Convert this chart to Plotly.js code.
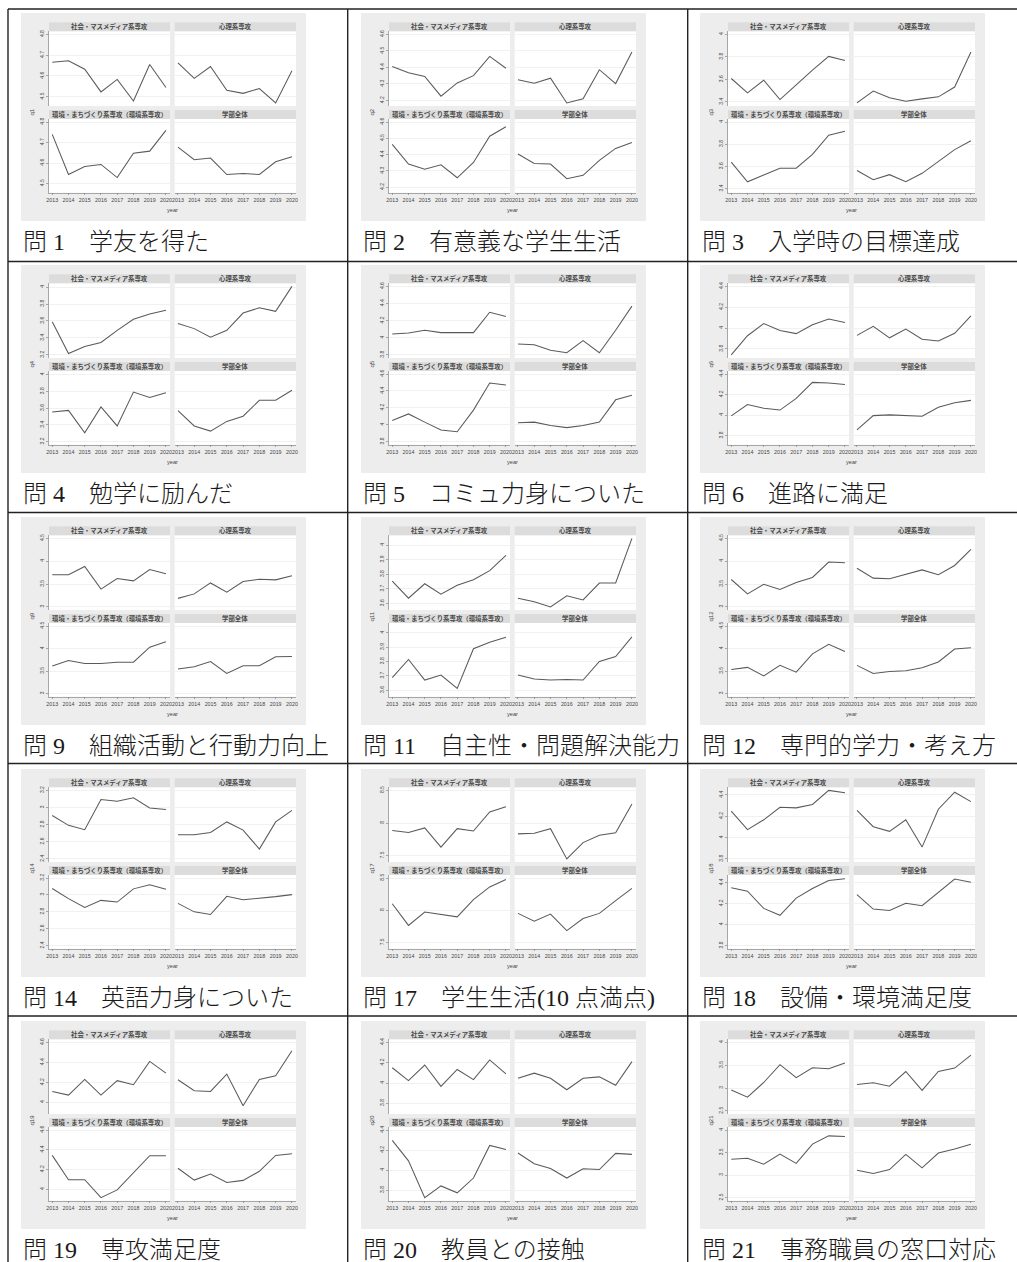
<!DOCTYPE html>
<html><head><meta charset="utf-8">
<script src="https://cdn.plot.ly/plotly-3.0.1.min.js"></script>
<style>html,body{margin:0;padding:0;background:#fff;}#chart{width:1017px;height:1262px;}</style>
</head><body><div id="chart"></div>
<script>
// ---------------- data ----------------
const years = [2013, 2014, 2015, 2016, 2017, 2018, 2019, 2020];
const panelTitles = ['社会・マスメディア系専攻', '心理系専攻', '環境・まちづくり系専攻（環境系専攻）', '学部全体'];

const q1Socio = [4.666, 4.673, 4.632, 4.523, 4.583, 4.479, 4.655, 4.544];
const q1Psych = [4.663, 4.588, 4.645, 4.531, 4.516, 4.539, 4.470, 4.625];
const q1Env   = [4.740, 4.544, 4.583, 4.593, 4.529, 4.648, 4.658, 4.759];
const q1All   = [4.678, 4.616, 4.624, 4.544, 4.549, 4.544, 4.606, 4.630];
const q1Ticks = [4.5, 4.6, 4.7, 4.8];

const q2Socio = [4.405, 4.368, 4.345, 4.226, 4.306, 4.350, 4.467, 4.395];
const q2Psych = [4.325, 4.304, 4.335, 4.185, 4.210, 4.386, 4.302, 4.493];
const q2Env   = [4.463, 4.342, 4.310, 4.338, 4.258, 4.352, 4.513, 4.571];
const q2All   = [4.404, 4.346, 4.342, 4.252, 4.273, 4.365, 4.438, 4.475];
const q2Ticks = [4.2, 4.3, 4.4, 4.5, 4.6];

const q3Socio = [3.608, 3.481, 3.593, 3.421, 3.551, 3.683, 3.804, 3.768];
const q3Psych = [3.391, 3.496, 3.436, 3.406, 3.427, 3.445, 3.532, 3.843];
const q3Env   = [3.639, 3.462, 3.523, 3.584, 3.584, 3.709, 3.881, 3.917];
const q3All   = [3.563, 3.480, 3.526, 3.462, 3.538, 3.642, 3.752, 3.832];
const q3Ticks = [3.4, 3.6, 3.8, 4];

const q4Socio = [3.592, 3.216, 3.298, 3.347, 3.490, 3.620, 3.682, 3.727];
const q4Psych = [3.571, 3.510, 3.408, 3.490, 3.694, 3.755, 3.714, 4.008];
const q4Env   = [3.554, 3.574, 3.306, 3.616, 3.388, 3.793, 3.727, 3.785];
const q4All   = [3.570, 3.388, 3.326, 3.442, 3.504, 3.694, 3.694, 3.814];
const q4Ticks = [3.2, 3.4, 3.6, 3.8, 4];

const q5Socio = [4.044, 4.056, 4.088, 4.060, 4.060, 4.060, 4.298, 4.249];
const q5Psych = [3.927, 3.919, 3.854, 3.826, 3.967, 3.826, 4.088, 4.370];
const q5Env   = [4.051, 4.128, 4.031, 3.937, 3.917, 4.173, 4.494, 4.470];
const q5All   = [4.023, 4.031, 3.990, 3.966, 3.990, 4.031, 4.295, 4.348];
const q5Ticks = [3.8, 4, 4.2, 4.4, 4.6];

const q6Socio = [3.743, 3.927, 4.043, 3.977, 3.947, 4.033, 4.087, 4.053];
const q6Psych = [3.930, 4.017, 3.907, 3.990, 3.893, 3.877, 3.950, 4.117];
const q6Env   = [3.993, 4.104, 4.067, 4.050, 4.164, 4.319, 4.312, 4.299];
const q6All   = [3.858, 3.996, 4.003, 3.996, 3.990, 4.077, 4.121, 4.144];
const q6Ticks = [3.8, 4, 4.2, 4.4];

const q9Socio = [3.705, 3.705, 3.885, 3.390, 3.622, 3.570, 3.817, 3.727];
const q9Psych = [3.187, 3.285, 3.525, 3.322, 3.555, 3.607, 3.592, 3.682];
const q9Env   = [3.614, 3.735, 3.667, 3.667, 3.697, 3.697, 4.030, 4.152];
const q9All   = [3.545, 3.598, 3.712, 3.447, 3.621, 3.621, 3.818, 3.826];
const q9Ticks = [3, 3.5, 4, 4.5];

const q11Socio = [3.754, 3.636, 3.735, 3.664, 3.725, 3.763, 3.825, 3.931];
const q11Psych = [3.636, 3.612, 3.576, 3.652, 3.624, 3.740, 3.740, 4.047];
const q11Env   = [3.687, 3.814, 3.671, 3.706, 3.612, 3.889, 3.934, 3.969];
const q11All   = [3.706, 3.678, 3.671, 3.675, 3.671, 3.800, 3.835, 3.972];
const q11Ticks = [3.6, 3.7, 3.8, 3.9, 4];

const q12Socio = [3.600, 3.285, 3.495, 3.382, 3.532, 3.645, 3.982, 3.967];
const q12Psych = [3.847, 3.630, 3.615, 3.720, 3.810, 3.705, 3.907, 4.260];
const q12Env   = [3.538, 3.583, 3.395, 3.628, 3.477, 3.883, 4.094, 3.936];
const q12All   = [3.628, 3.447, 3.492, 3.508, 3.575, 3.703, 3.989, 4.019];
const q12Ticks = [3, 3.5, 4, 4.5];

const q14Socio = [2.907, 2.792, 2.741, 3.093, 3.073, 3.113, 2.994, 2.978];
const q14Psych = [2.681, 2.681, 2.709, 2.832, 2.737, 2.515, 2.832, 2.966];
const q14Env   = [3.076, 2.956, 2.852, 2.936, 2.916, 3.072, 3.120, 3.068];
const q14All   = [2.900, 2.800, 2.768, 2.984, 2.944, 2.960, 2.980, 3.004];
const q14Ticks = [2.4, 2.6, 2.8, 3, 3.2];

const q17Socio = [7.888, 7.856, 7.926, 7.633, 7.915, 7.878, 8.170, 8.250];
const q17Psych = [7.835, 7.846, 7.915, 7.452, 7.702, 7.814, 7.851, 8.293];
const q17Env   = [8.101, 7.766, 7.973, 7.941, 7.899, 8.165, 8.362, 8.479];
const q17All   = [7.952, 7.830, 7.941, 7.686, 7.872, 7.952, 8.149, 8.340];
const q17Ticks = [7.5, 8, 8.5];

const q18Socio = [4.249, 4.075, 4.167, 4.285, 4.279, 4.311, 4.443, 4.420];
const q18Psych = [4.256, 4.102, 4.059, 4.167, 3.911, 4.266, 4.426, 4.338];
const q18Env   = [4.351, 4.318, 4.154, 4.089, 4.252, 4.344, 4.420, 4.436];
const q18All   = [4.285, 4.148, 4.134, 4.203, 4.180, 4.305, 4.433, 4.403];
const q18Ticks = [3.8, 4, 4.2, 4.4];

const q19Socio = [4.110, 4.073, 4.230, 4.073, 4.217, 4.177, 4.410, 4.293];
const q19Psych = [4.227, 4.117, 4.110, 4.283, 3.967, 4.230, 4.267, 4.517];
const q19Env   = [4.343, 4.097, 4.097, 3.915, 3.994, 4.172, 4.340, 4.340];
const q19All   = [4.213, 4.093, 4.155, 4.069, 4.090, 4.182, 4.343, 4.360];
const q19Ticks = [4, 4.2, 4.4, 4.6];

const q20Socio = [4.150, 4.023, 4.177, 3.967, 4.133, 4.033, 4.227, 4.090];
const q20Psych = [4.047, 4.097, 4.047, 3.933, 4.047, 4.060, 3.977, 4.210];
const q20Env   = [4.297, 4.092, 3.725, 3.842, 3.773, 3.921, 4.246, 4.205];
const q20All   = [4.171, 4.064, 4.016, 3.921, 4.013, 4.006, 4.167, 4.157];
const q20Ticks = [3.8, 4, 4.2, 4.4];

const q21Socio = [2.957, 2.800, 3.122, 3.512, 3.227, 3.445, 3.422, 3.550];
const q21Psych = [3.077, 3.115, 3.040, 3.362, 2.950, 3.362, 3.437, 3.722];
const q21Env   = [3.351, 3.374, 3.244, 3.466, 3.260, 3.687, 3.870, 3.855];
const q21All   = [3.107, 3.038, 3.122, 3.458, 3.160, 3.489, 3.580, 3.687];
const q21Ticks = [2.5, 3, 3.5, 4];

const varNames = ['q1', 'q2', 'q3', 'q4', 'q5', 'q6', 'q9', 'q11', 'q12', 'q14', 'q17', 'q18', 'q19', 'q20', 'q21'];
const captions = [
  '問 1　学友を得た', '問 2　有意義な学生生活', '問 3　入学時の目標達成',
  '問 4　勉学に励んだ', '問 5　コミュ力身についた', '問 6　進路に満足',
  '問 9　組織活動と行動力向上', '問 11　自主性・問題解決能力', '問 12　専門的学力・考え方',
  '問 14　英語力身についた', '問 17　学生生活(10 点満点)', '問 18　設備・環境満足度',
  '問 19　専攻満足度', '問 20　教員との接触', '問 21　事務職員の窓口対応'
];
const seriesSets = [
  [q1Socio, q1Psych, q1Env, q1All], [q2Socio, q2Psych, q2Env, q2All], [q3Socio, q3Psych, q3Env, q3All],
  [q4Socio, q4Psych, q4Env, q4All], [q5Socio, q5Psych, q5Env, q5All], [q6Socio, q6Psych, q6Env, q6All],
  [q9Socio, q9Psych, q9Env, q9All], [q11Socio, q11Psych, q11Env, q11All], [q12Socio, q12Psych, q12Env, q12All],
  [q14Socio, q14Psych, q14Env, q14All], [q17Socio, q17Psych, q17Env, q17All], [q18Socio, q18Psych, q18Env, q18All],
  [q19Socio, q19Psych, q19Env, q19All], [q20Socio, q20Psych, q20Env, q20All], [q21Socio, q21Psych, q21Env, q21All]
];
const tickSets = [q1Ticks, q2Ticks, q3Ticks, q4Ticks, q5Ticks, q6Ticks, q9Ticks, q11Ticks, q12Ticks,
                  q14Ticks, q17Ticks, q18Ticks, q19Ticks, q20Ticks, q21Ticks];

// ---------------- layout geometry (px) ----------------
const W = 1017, H = 1262;
const fx = v => v / W, fy = v => 1 - v / H;
const colGraphX = [21, 361, 700];
const rowGraphY = [13, 265, 517, 769, 1021];
const GW = 285, GH = 208;
const panelX = [[28, 149], [153.7, 275]];
const panelY = [[18.3, 93], [106, 179.7]];
const headY = [[9.3, 18.3], [97, 106]];
const rowLines = [9, 261.5, 512.5, 763.5, 1016];
const colLines = [8, 347.7, 687.7];

const SANS = 'Liberation Sans, Arial, Noto Sans CJK JP, sans-serif';
const SERIF = 'Liberation Serif, Noto Sans CJK JP, serif';

const layout = {
  width: W, height: H, margin: {l: 0, r: 0, t: 0, b: 0},
  paper_bgcolor: '#ffffff', plot_bgcolor: 'rgba(0,0,0,0)',
  showlegend: false, shapes: [], annotations: [], hovermode: false
};
const traces = [];

function rect(x0, y0, x1, y1, color) {
  return {type: 'rect', xref: 'paper', yref: 'paper', x0: fx(x0), x1: fx(x1), y0: fy(y1), y1: fy(y0),
          fillcolor: color, line: {width: 0}, layer: 'below'};
}

seriesSets.forEach((series, ci) => {
  const col = ci % 3, row = Math.floor(ci / 3);
  const gx = colGraphX[col], gy = rowGraphY[row];
  const ticks = tickSets[ci];
  layout.shapes.push(rect(gx, gy, gx + GW, gy + GH, '#ededed'));

  const allVals = [].concat(...series);
  let lo = Math.min(ticks[0], ...allVals), hi = Math.max(ticks[ticks.length - 1], ...allVals);
  const pad = (hi - lo) * 0.045; lo -= pad; hi += pad;

  series.forEach((s, p) => {
    const pc = p % 2, pr = Math.floor(p / 2);
    const idx = ci * 4 + p + 1;
    const [x0, x1] = panelX[pc], [y0, y1] = panelY[pr], [h0, h1] = headY[pr];
    layout.shapes.push(rect(gx + x0, gy + y0, gx + x1, gy + y1, '#ffffff'));
    layout.shapes.push(rect(gx + x0, gy + h0, gx + x1, gy + h1, '#dcdcdc'));
    layout.annotations.push({
      text: '<b>' + panelTitles[p] + '</b>', xref: 'paper', yref: 'paper',
      x: fx(gx + (x0 + x1) / 2), y: fy(gy + (h0 + h1) / 2), xanchor: 'center', yanchor: 'middle',
      showarrow: false, borderpad: 0, font: {family: SANS, size: 6.4, color: '#4a4a4a'}
    });
    const bottom = pr === 1, left = pc === 0;
    const xk = 'xaxis' + (idx === 1 ? '' : idx), yk = 'yaxis' + (idx === 1 ? '' : idx);
    const xr = 'x' + (idx === 1 ? '' : idx), yr = 'y' + (idx === 1 ? '' : idx);
    layout[xk] = {
      domain: [fx(gx + x0), fx(gx + x1)], anchor: yr, range: [2012.8, 2020.25],
      tickmode: 'array', tickvals: years, ticktext: years.map(String),
      showticklabels: bottom, ticks: bottom ? 'outside' : '', ticklen: 2, tickwidth: 0.6, tickcolor: '#777',
      showline: bottom, linecolor: '#888', linewidth: 0.7, showgrid: false, zeroline: false,
      tickfont: {family: SANS, size: 5.3, color: '#444'}, fixedrange: true
    };
    layout[yk] = {
      domain: [fy(gy + y1), fy(gy + y0)], anchor: xr, range: [lo, hi],
      tickmode: 'array', tickvals: ticks, ticktext: ticks.map(String),
      showticklabels: left, ticks: left ? 'outside' : '', ticklen: 2, tickwidth: 0.6, tickcolor: '#777',
      tickangle: -90, showline: left, linecolor: '#888', linewidth: 0.7,
      showgrid: true, gridcolor: '#ebebeb', gridwidth: 0.7, zeroline: false,
      tickfont: {family: SANS, size: 5, color: '#444'}, fixedrange: true
    };
    traces.push({x: years, y: s, type: 'scatter', mode: 'lines', xaxis: xr, yaxis: yr,
                 line: {color: '#5a5a5a', width: 1.05}, hoverinfo: 'skip'});
  });

  layout.annotations.push({text: varNames[ci], xref: 'paper', yref: 'paper', x: fx(gx + 10), y: fy(gy + 99.5),
    textangle: -90, showarrow: false, xanchor: 'center', yanchor: 'middle', borderpad: 0,
    font: {family: SANS, size: 6, color: '#444'}});
  layout.annotations.push({text: 'year', xref: 'paper', yref: 'paper', x: fx(gx + 151), y: fy(gy + 197),
    showarrow: false, xanchor: 'center', yanchor: 'middle', borderpad: 0,
    font: {family: SANS, size: 5.6, color: '#444'}});
  layout.annotations.push({text: captions[ci], xref: 'paper', yref: 'paper', x: fx(gx + 1), y: fy(gy + 228.5),
    showarrow: false, xanchor: 'left', yanchor: 'middle', borderpad: 0,
    font: {family: SERIF, size: 24, color: '#1a1a1a', weight: 300}});
});

// table borders
rowLines.forEach(y => layout.shapes.push({type: 'line', xref: 'paper', yref: 'paper',
  x0: fx(colLines[0]), x1: 1, y0: fy(y), y1: fy(y), line: {color: '#222', width: 1.4}}));
colLines.forEach(x => layout.shapes.push({type: 'line', xref: 'paper', yref: 'paper',
  x0: fx(x), x1: fx(x), y0: fy(rowLines[0]), y1: 0, line: {color: '#222', width: 1.4}}));

Plotly.newPlot('chart', traces, layout, {staticPlot: true, displayModeBar: false});
</script>
</body></html>
